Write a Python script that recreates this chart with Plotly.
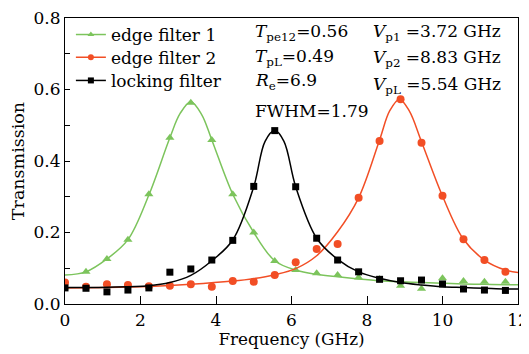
import plotly.graph_objects as go

# Measured points (GHz, transmission)
freq = [0.0, 0.556, 1.111, 1.667, 2.222, 2.778, 3.333, 3.889, 4.444, 5.0, 5.556,
        6.111, 6.667, 7.222, 7.778, 8.333, 8.889, 9.444, 10.0, 10.556, 11.111, 11.667]
edge1 = [0.047, 0.090, 0.126, 0.180, 0.307, 0.465, 0.563, 0.459, 0.307, 0.200, 0.120,
         0.095, 0.086, 0.081, 0.074, 0.070, 0.051, 0.043, 0.072, 0.064, 0.062, 0.062]
edge2 = [0.060, 0.048, 0.055, 0.053, 0.050, 0.051, 0.055, 0.048, 0.064, 0.062, 0.081,
         0.117, 0.154, 0.168, 0.297, 0.456, 0.573, 0.451, 0.303, 0.181, 0.123, 0.090]
lock = [0.045, 0.044, 0.034, 0.039, 0.045, 0.089, 0.098, 0.123, 0.178, 0.329, 0.485,
        0.328, 0.184, 0.123, 0.090, 0.069, 0.065, 0.067, 0.056, 0.042, 0.039, 0.038]

# Fitted curves
fit1_x = [0.0, 0.556, 1.111, 1.667, 2.222, 2.778, 3.05, 3.333, 3.62, 3.889, 4.444, 5.0,
          5.556, 6.111, 6.667, 7.222, 7.778, 8.333, 8.889, 9.444, 10.0, 10.556, 11.111, 11.667, 12.0]
fit1_y = [0.081, 0.090, 0.126, 0.180, 0.305, 0.465, 0.533, 0.566, 0.530, 0.459, 0.307, 0.200,
          0.121, 0.095, 0.083, 0.076, 0.070, 0.065, 0.062, 0.060, 0.058, 0.056, 0.055, 0.054, 0.054]
fit2_x = [0.0, 1.111, 2.222, 3.333, 4.444, 5.0, 5.556, 6.111, 6.667, 7.222, 7.778, 8.333,
          8.6, 8.86, 9.12, 9.444, 10.0, 10.556, 11.111, 11.667, 12.0]
fit2_y = [0.045, 0.046, 0.049, 0.055, 0.064, 0.071, 0.082, 0.099, 0.135, 0.202, 0.297, 0.459,
          0.540, 0.573, 0.540, 0.454, 0.302, 0.181, 0.123, 0.095, 0.088]
fitL_x = [0.0, 1.111, 2.222, 2.778, 3.333, 3.889, 4.444, 5.0, 5.3, 5.556, 5.8, 6.111,
          6.667, 7.222, 7.778, 8.333, 8.889, 9.444, 10.0, 10.556, 11.111, 11.667, 12.0]
fitL_y = [0.046, 0.047, 0.051, 0.060, 0.080, 0.121, 0.179, 0.328, 0.455, 0.485, 0.455, 0.328,
          0.184, 0.125, 0.090, 0.072, 0.060, 0.053, 0.048, 0.046, 0.044, 0.042, 0.042]

green = "#7cc45c"
red = "#f24e25"
black = "#000000"
FONT = "DejaVu Serif"

# page offset of the plot div (default body margin)
OFF = 8
W, H = 529 - OFF, 354 - OFF
# plot area in screen pixels
L, R, T, B = 65, 518, 18, 304.5

def py2paper(py):
    return (B - py) / (B - T)

fig = go.Figure()
series = [
    (fit1_x, fit1_y, freq, edge1, green, "triangle-up", 8, "edge filter 1", "legend", 35),
    (fit2_x, fit2_y, freq, edge2, red, "circle", 8, "edge filter 2", "legend2", 57.7),
    (fitL_x, fitL_y, freq, lock, black, "square", 7, "locking filter", "legend3", 81),
]
legends = {}
for fx, fy, px, py, col, sym, sz, name, lg, ly in series:
    fig.add_trace(go.Scatter(x=fx, y=fy, mode="lines", line=dict(color=col, width=1.5, shape="spline"),
                             showlegend=False, hoverinfo="skip"))
    fig.add_trace(go.Scatter(x=px, y=py, mode="markers", marker=dict(color=col, symbol=sym, size=sz),
                             showlegend=False))
    # legend entry (line + marker)
    fig.add_trace(go.Scatter(x=[None], y=[None], mode="lines+markers", name=name, legend=lg,
                             line=dict(color=col, width=1.5),
                             marker=dict(color=col, symbol=sym, size=6)))
    legends[lg] = dict(x=0.013, y=py2paper(ly), xanchor="left", yanchor="middle",
                       bgcolor="rgba(0,0,0,0)", itemwidth=30, font=dict(family=FONT, size=17))

ann = [
    (253, 33, "<i>T</i><sub>pe12</sub>=0.56"),
    (253, 58, "<i>T</i><sub>pL</sub>=0.49"),
    (253, 82, "<i>R</i><sub>e</sub>=6.9"),
    (253, 111, "FWHM=1.79"),
    (371, 33, "<i>V</i><sub>p1</sub> =3.72 GHz"),
    (371, 59, "<i>V</i><sub>p2</sub> =8.83 GHz"),
    (371, 86, "<i>V</i><sub>pL</sub> =5.54 GHz"),
]
for px_, py_, txt in ann:
    fig.add_annotation(x=(px_ - L) / (R - L), y=py2paper(py_), xref="paper", yref="paper",
                       text=txt, showarrow=False, xanchor="left", yanchor="middle",
                       font=dict(family=FONT, size=17, color="black"))

fig.update_layout(
    width=W, height=H,
    margin=dict(l=L - OFF, r=W - (R - OFF), t=T - OFF, b=H - (B - OFF), autoexpand=False),
    paper_bgcolor="white", plot_bgcolor="white",
    font=dict(family=FONT, size=17, color="black"),
    **legends,
    xaxis=dict(range=[0, 12], dtick=2, showline=True, linecolor="black", linewidth=1.2, mirror=True,
               ticks="inside", ticklen=8, tickcolor="black", showgrid=False, zeroline=False,
               automargin=False, ticklabeloverflow="allow",
               title=dict(text="Frequency (GHz)", standoff=4, font=dict(family=FONT, size=16.8))),
    yaxis=dict(range=[0, 0.8], dtick=0.2, tickformat=".1f", showline=True, linecolor="black", linewidth=1.2,
               mirror=True, ticks="inside", ticklen=5, tickcolor="black", showgrid=False, zeroline=False,
               automargin=False, ticklabeloverflow="allow",
               minor=dict(dtick=0.1, ticks="inside", ticklen=5, tickcolor="black", showgrid=False),
               title=dict(text="Transmission", standoff=6, font=dict(family=FONT, size=17.5))),
)
fig.write_html("out.html")
